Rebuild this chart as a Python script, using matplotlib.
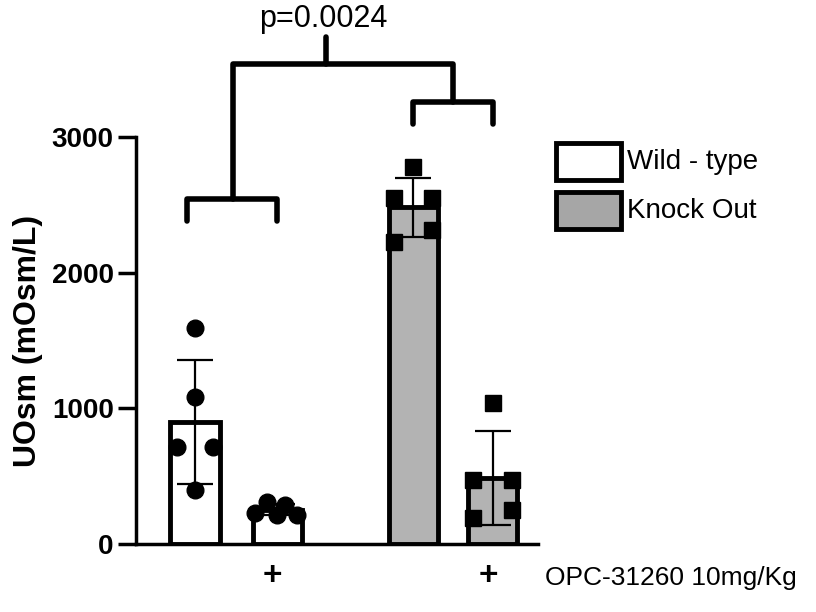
import numpy as np
from matplotlib import pyplot as plt
from matplotlib.patches import Rectangle

plt.rcParams['font.family'] = ['Liberation Sans', 'DejaVu Sans']

# Data
groups = ["WT", "WT + OPC", "KO", "KO + OPC"]
means = [900, 252, 2483, 485]
sds = [457, 40, 218, 346]
wt_pts = [1592, 1083, 715, 715, 398]
wt_opc_pts = [230, 310, 215, 290, 215]
ko_pts = [2778, 2550, 2550, 2314, 2225]
ko_opc_pts = [1039, 472, 472, 250, 192]
pts_jitter = [
    [0, 0, -0.22, 0.22, 0],
    [-0.27, -0.12, 0, 0.1, 0.24],
    [0, -0.24, 0.23, 0.23, -0.24],
    [0, -0.24, 0.23, 0.23, -0.24],
]
xpos = [0, 1, 2.66, 3.63]
fills = ["white", "white", "#b3b3b3", "#b3b3b3"]
markers = ["o", "o", "s", "s"]
treat = ["", "+", "", "+"]

fig = plt.figure(figsize=(8.16, 6.12), dpi=100)
ax = fig.add_axes([0.1667, 0.111, 0.4926, 0.665])

for i, pts in enumerate([wt_pts, wt_opc_pts, ko_pts, ko_opc_pts]):
    ax.bar(xpos[i], means[i], width=0.6, color=fills[i], edgecolor="black",
           linewidth=3.5, zorder=2)
    ax.errorbar(xpos[i], means[i], yerr=sds[i], color="black", elinewidth=1.6,
                capsize=13, capthick=1.6, zorder=3)
    xs = [xpos[i] + j for j in pts_jitter[i]]
    ms = 12 if markers[i] == "o" else 11
    ax.plot(xs, pts, linestyle="none", marker=markers[i], markersize=ms,
            color="black", zorder=4, clip_on=False)

ax.set_xlim(-0.72, 4.18)
ax.set_ylim(0, 3000)
ax.set_yticks([0, 1000, 2000, 3000])
ax.set_xticks([])
for s in ["top", "right"]:
    ax.spines[s].set_visible(False)
for s in ["left", "bottom"]:
    ax.spines[s].set_linewidth(2.5)
ax.tick_params(axis="y", width=2.5, length=13, labelsize=20, pad=3)
for lab in ax.get_yticklabels():
    lab.set_fontweight("bold")
ax.set_ylabel("UOsm (mOsm/L)", fontsize=23, fontweight="bold", labelpad=6)

# treatment row
for i, t in enumerate(treat):
    if t:
        ax.text(xpos[i] - 0.06, -240, t, ha="center", va="center", fontsize=24,
                fontweight="bold", clip_on=False)
ax.text(4.27, -250, "OPC-31260 10mg/Kg", ha="left", va="center", fontsize=19)

# significance brackets
lw = 4
kw = dict(color="black", linewidth=lw, clip_on=False, solid_capstyle="round")
ax.plot([-0.1, -0.1, 1.0, 1.0], [2380, 2540, 2540, 2380], **kw)
ax.plot([2.66, 2.66, 3.63, 3.63], [3100, 3260, 3260, 3100], **kw)
ax.plot([0.46, 0.46, 3.15, 3.15], [2540, 3540, 3540, 3260], **kw)
ax.plot([1.6, 1.6], [3540, 3740], **kw)
ax.text(1.56, 3870, "p=0.0024", ha="center", va="center", fontsize=22)

# legend boxes
lx, box_w = 4.40, 0.79
for y0, fc, lab in [(2682, "white", "Wild - type"), (2321, "#a6a6a6", "Knock Out")]:
    ax.add_patch(Rectangle((lx, y0), box_w, 273, facecolor=fc, edgecolor="black",
                           linewidth=3.5, clip_on=False))
    ax.text(5.27, y0 + 136, lab, ha="left", va="center", fontsize=20)

fig.savefig("out.png", dpi=100)
